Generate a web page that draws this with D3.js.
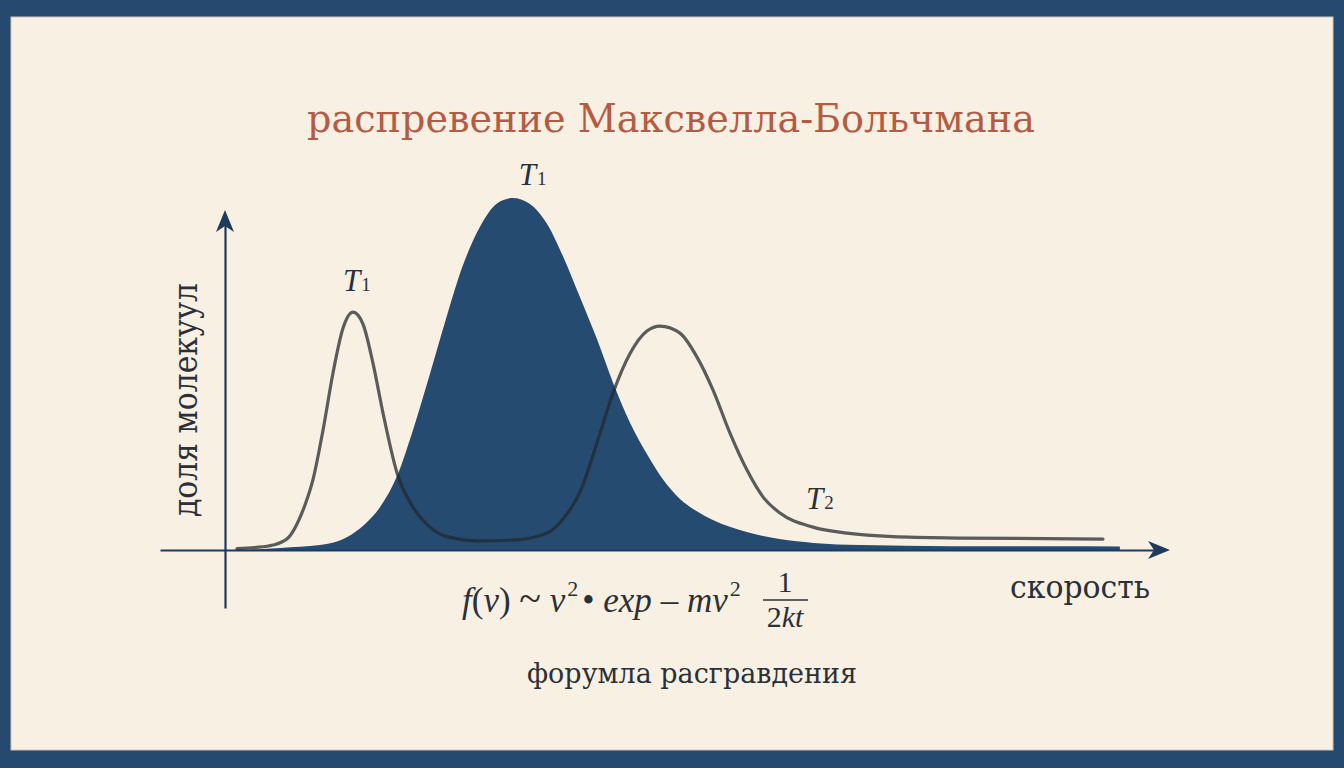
<!DOCTYPE html>
<html>
<head>
<meta charset="utf-8">
<script src="https://cdn.jsdelivr.net/npm/d3@7"></script>
<style>
  html, body { margin: 0; padding: 0; background: #264a6f; }
  svg { display: block; }
</style>
</head>
<body>
<svg id="chart" width="1344" height="768"></svg>
<script>
// ---- data ----
const title = "распревение Максвелла-Больчмана";
const yLabel = "доля молекуул";
const xLabel = "скорость";
const caption = "форумла расгравдения";
const curveLabels = ["T", "T", "T"];
const curveSubs = ["1", "1", "2"];

// filled curve (dark blue)
const fillSpeed = [0.27, 0.59, 1.01, 1.30, 1.49, 1.65, 1.83, 2.00, 2.18, 2.36, 2.53, 2.71, 2.89, 3.06,
  3.24, 3.43, 3.60, 3.78, 3.96, 4.13, 4.31, 4.49, 4.66, 4.84, 5.02, 5.19, 5.55, 5.90, 6.26, 6.76, 7.71, 8.78, 9.52];
const fillValue = [0.001, 0.006, 0.014, 0.037, 0.074, 0.122, 0.210, 0.341, 0.500, 0.665, 0.808, 0.917, 0.984, 1.0,
  0.984, 0.925, 0.832, 0.716, 0.597, 0.474, 0.361, 0.272, 0.200, 0.145, 0.110, 0.085, 0.051, 0.031, 0.020, 0.014, 0.011, 0.0105, 0.010];

// gray line (T1 narrow peak, then T2 broad peak)
const lineSpeed = [0.128, 0.319, 0.511, 0.670, 0.766, 0.851, 0.936, 1.043, 1.149, 1.255, 1.362, 1.468, 1.574, 1.681,
  1.830, 2.000, 2.181, 2.362, 2.713, 3.064, 3.426, 3.596, 3.777, 3.957, 4.128, 4.309, 4.489, 4.628, 4.840, 5.021,
  5.191, 5.372, 5.553, 5.723, 5.904, 6.255, 6.617, 7.106, 7.819, 9.340];
const lineValue = [0.004, 0.007, 0.014, 0.034, 0.074, 0.128, 0.200, 0.341, 0.503, 0.630, 0.676, 0.642, 0.531, 0.389,
  0.219, 0.122, 0.065, 0.038, 0.026, 0.028, 0.048, 0.088, 0.165, 0.304, 0.446, 0.558, 0.622, 0.636, 0.616, 0.548,
  0.455, 0.332, 0.227, 0.151, 0.105, 0.065, 0.048, 0.038, 0.034, 0.031];

// ---- drawing ----
const W = 1344, H = 768;
const svg = d3.select("#chart");
const ink = "#2b3038";
const axisCol = "#1f3b5c";
const fillCol = "#264b70";
const serif = "'DejaVu Serif', 'Liberation Serif', serif";
const mathFont = "'Liberation Serif', 'DejaVu Serif', serif";

// frame
svg.append("rect").attr("x", 0).attr("y", 0).attr("width", W).attr("height", H).attr("fill", "#264a6f");
svg.append("rect").attr("x", 11).attr("y", 17).attr("width", 1322).attr("height", 733)
  .attr("fill", "#f8f0e2").attr("stroke", "#cfc6b6").attr("stroke-width", 1);

const x = d3.scaleLinear().domain([0, 10]).range([225, 1165]);
const y = d3.scaleLinear().domain([0, 1]).range([550, 198]);

// title
svg.append("text").attr("x", 671).attr("y", 132).attr("text-anchor", "middle")
  .attr("font-family", serif).attr("font-size", 39).attr("fill", "#b65b43")
  .attr("textLength", 728).attr("lengthAdjust", "spacingAndGlyphs")
  .text(title);

// filled area
const fillData = fillSpeed.map((v, i) => [v, fillValue[i]]);
const area = d3.area().x(d => x(d[0])).y0(y(0)).y1(d => y(d[1])).curve(d3.curveMonotoneX);
svg.append("path").datum(fillData).attr("d", area).attr("fill", fillCol);

// axes (d3 axes without ticks, used for their domain lines)
const xAxisScale = d3.scaleLinear().domain([x.invert(160), x.invert(1156)]).range([160, 1156]);
const gx = svg.append("g").attr("transform", `translate(0,${y(0)})`)
  .call(d3.axisBottom(xAxisScale).tickValues([]).tickSizeOuter(0));
gx.select(".domain").attr("stroke", axisCol).attr("stroke-width", 2.2);

const yAxisScale = d3.scaleLinear().domain([y.invert(608), y.invert(222)]).range([608, 222]);
const gy = svg.append("g").attr("transform", `translate(${x(0)},0)`)
  .call(d3.axisLeft(yAxisScale).tickValues([]).tickSizeOuter(0));
gy.select(".domain").attr("stroke", axisCol).attr("stroke-width", 2.2);

// arrowheads
const ax = 1170, ay = y(0);
svg.append("path")
  .attr("d", `M${ax},${ay} L${ax - 22},${ay - 9} L${ax - 16},${ay} L${ax - 22},${ay + 9} Z`)
  .attr("fill", axisCol);
const tx = x(0), ty = 210;
svg.append("path")
  .attr("d", `M${tx},${ty} L${tx - 9},${ty + 22} L${tx},${ty + 16} L${tx + 9},${ty + 22} Z`)
  .attr("fill", axisCol);

// gray line
const lineData = lineSpeed.map((v, i) => [v, lineValue[i]]);
const line = d3.line().x(d => x(d[0])).y(d => y(d[1])).curve(d3.curveMonotoneX);
svg.append("path").datum(lineData).attr("d", line)
  .attr("fill", "none").attr("stroke", "#23272c").attr("stroke-opacity", 0.74)
  .attr("stroke-width", 3.2).attr("stroke-linecap", "round").attr("stroke-linejoin", "round");

// curve labels
const grayPeakIdx = d3.maxIndex(lineValue.slice(0, 15));
const fillPeakIdx = d3.maxIndex(fillValue);
const labelPos = [
  [x(lineSpeed[grayPeakIdx]) - 10, y(lineValue[grayPeakIdx]) - 21],
  [x(fillSpeed[fillPeakIdx]) + 6, y(fillValue[fillPeakIdx]) - 13],
  [x(6.18), y(0.117)]
];
curveLabels.forEach((t, i) => {
  const g = svg.append("text").attr("x", labelPos[i][0]).attr("y", labelPos[i][1])
    .attr("font-family", mathFont).attr("fill", ink);
  g.append("tspan").attr("font-style", "italic").attr("font-size", 31).text(t);
  g.append("tspan").attr("font-size", 19).attr("dx", 1).text(curveSubs[i]);
});

// y label
svg.append("text").attr("transform", "translate(197,400) rotate(-90)")
  .attr("text-anchor", "middle").attr("font-family", serif).attr("font-size", 33)
  .attr("fill", ink).attr("textLength", 234).attr("lengthAdjust", "spacingAndGlyphs")
  .text(yLabel);

// x label
svg.append("text").attr("x", 1080).attr("y", 598).attr("text-anchor", "middle")
  .attr("font-family", serif).attr("font-size", 31).attr("fill", ink)
  .attr("textLength", 140).attr("lengthAdjust", "spacingAndGlyphs")
  .text(xLabel);

// formula
const f = svg.append("text").attr("x", 462).attr("y", 612)
  .attr("font-family", mathFont).attr("font-size", 35).attr("fill", ink);
f.append("tspan").attr("font-style", "italic").text("f");
f.append("tspan").text("(");
f.append("tspan").attr("font-style", "italic").text("v");
f.append("tspan").text(") ");
f.append("tspan").attr("font-size", 40).text("~");
f.append("tspan").text(" ");
f.append("tspan").attr("font-style", "italic").text("v");
f.append("tspan").attr("font-size", 22).attr("dy", -16).attr("dx", 2).text("2");
f.append("tspan").attr("dy", 16).attr("dx", 4).text("• ");
f.append("tspan").attr("font-style", "italic").text("exp");
f.append("tspan").text(" – ");
f.append("tspan").attr("font-style", "italic").text("mv");
f.append("tspan").attr("font-size", 22).attr("dy", -16).attr("dx", 2).text("2");

svg.append("text").attr("x", 785).attr("y", 592).attr("text-anchor", "middle")
  .attr("font-family", mathFont).attr("font-size", 30).attr("fill", ink).text("1");
svg.append("line").attr("x1", 763).attr("x2", 808).attr("y1", 600).attr("y2", 600)
  .attr("stroke", ink).attr("stroke-width", 1.6);
const den = svg.append("text").attr("x", 785).attr("y", 627).attr("text-anchor", "middle")
  .attr("font-family", mathFont).attr("font-size", 30).attr("fill", ink);
den.append("tspan").text("2");
den.append("tspan").attr("font-style", "italic").text("kt");

// caption
svg.append("text").attr("x", 692).attr("y", 683).attr("text-anchor", "middle")
  .attr("font-family", serif).attr("font-size", 27).attr("fill", ink)
  .attr("textLength", 330).attr("lengthAdjust", "spacingAndGlyphs")
  .text(caption);
</script>
</body>
</html>
